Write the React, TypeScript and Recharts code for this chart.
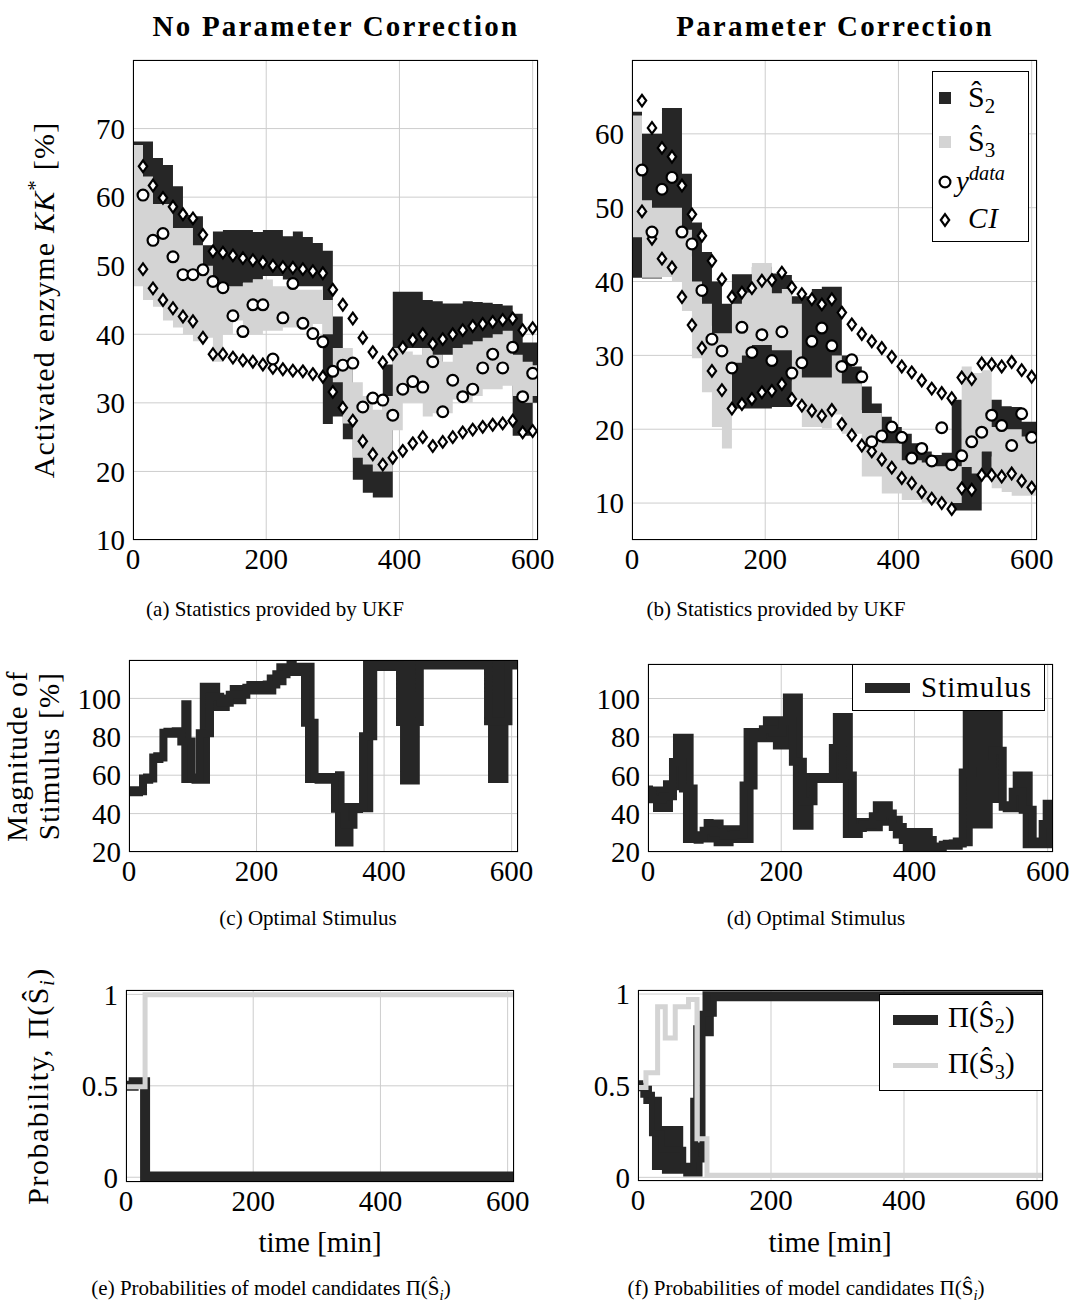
import React from "react"
import { Area, CartesianGrid, ComposedChart, Line, Scatter, XAxis, YAxis } from "recharts"

const SERIF = '"Liberation Serif", "Times New Roman", serif'
const DARK = "#262626"
const LIGHT = "#d4d4d4"
const GRID = "#cdcdcd"

// sample times [min]
const bandTimes = [0, 15, 30, 45, 60, 75, 90, 105, 120, 135, 150, 165, 180, 195, 210, 225, 240, 255, 270, 285, 300, 315, 330, 345, 360, 375, 390, 405, 420, 435, 450, 465, 480, 495, 510, 525, 540, 555, 570, 585, 600]
const markTimes = [15, 30, 45, 60, 75, 90, 105, 120, 135, 150, 165, 180, 195, 210, 225, 240, 255, 270, 285, 300, 315, 330, 345, 360, 375, 390, 405, 420, 435, 450, 465, 480, 495, 510, 525, 540, 555, 570, 585, 600]

// (a) no parameter correction
const aS2Lo = [53.5, 50, 50, 51, 52, 51, 50.5, 46, 46, 46.5, 46.5, 47.5, 48, 48.5, 48.5, 48, 47, 47, 47, 26.9, 28, 24.7, 18.8, 16.9, 16.2, 16.2, 31, 38, 38, 31, 36, 37, 37, 37.5, 38, 38.5, 38.5, 38.5, 25.2, 25.2, 30]
const aS2Hi = [68.1, 68.1, 65.7, 64.7, 61.6, 57.4, 57.2, 53, 55, 55.2, 55.2, 55.2, 54.9, 55.2, 55.2, 54.3, 55, 54.2, 53.3, 52.2, 42.6, 36, 27, 24, 21, 35.6, 46.2, 46.2, 46.2, 45, 44.8, 44.5, 44.5, 44.8, 44.7, 44.6, 44.4, 44.2, 43, 38.8, 38.8]
const aS3Lo = [47, 45, 44, 42, 41, 40, 39, 39.5, 36, 40, 42, 40, 40, 40.5, 40.5, 41, 41, 41, 41.5, 40, 33, 27, 22, 21, 20, 20, 26, 30, 30, 28, 28.5, 28.5, 30.5, 30, 31, 32, 32, 32.5, 31, 30, 31]
const aS3Hi = [67.6, 63, 59, 59, 55.5, 55.5, 53, 50, 47, 47, 47, 47.5, 48, 48, 47, 47, 46.5, 46.5, 46.5, 45, 38, 38, 33, 31, 29, 31, 38, 37.5, 37, 38, 37, 36, 38, 38.5, 39, 39.5, 40, 40.5, 37, 36, 35.5]
const aYData = [60.3, 53.7, 54.7, 51.3, 48.7, 48.7, 49.4, 47.7, 46.8, 42.7, 40.4, 44.3, 44.3, 36.4, 42.4, 47.4, 41.6, 40.1, 38.9, 34.6, 35.5, 35.8, 29.4, 30.7, 30.4, 28.2, 32.0, 33.1, 32.3, 36.0, 28.7, 33.3, 30.9, 32.0, 35.1, 37.1, 35.1, 38.1, 30.9, 34.3]
const aCiHi = [64.5, 61.7, 59.9, 58.6, 57.5, 56.9, 54.5, 52.1, 51.9, 51.5, 51.1, 50.8, 50.5, 50.0, 49.8, 49.7, 49.5, 49.2, 48.9, 46.5, 44.3, 42.3, 39.5, 37.4, 35.9, 37.1, 38.1, 39.2, 40.0, 38.6, 39.3, 40.0, 40.6, 41.2, 41.5, 41.8, 42.1, 42.3, 40.6, 40.9]
const aCiLo = [49.5, 46.7, 45.0, 43.8, 42.6, 41.9, 39.5, 37.1, 37.1, 36.6, 36.2, 36.0, 35.6, 35.1, 34.9, 34.7, 34.6, 34.2, 33.8, 31.6, 29.3, 27.4, 24.4, 22.5, 21.0, 22.0, 23.0, 24.1, 25.0, 23.7, 24.3, 25.0, 25.7, 26.1, 26.5, 26.8, 27.0, 27.4, 25.7, 25.9]

// (b) parameter correction
const bS2Lo = [40.5, 40.4, 40.4, 41, 44, 43.4, 37.5, 34, 28.5, 28.5, 22.8, 22.8, 22.8, 22.8, 23, 23, 26.5, 26.7, 26.7, 26.7, 24, 25.3, 22.6, 19.9, 18.1, 16.3, 14.9, 14, 13.6, 13.1, 13.1, 13, 9, 9, 9, 13.5, 16.3, 16.3, 16.3, 15.8, 15.8]
const bS2Hi = [63, 60, 60, 63.5, 63.5, 54.6, 48, 44, 40, 37, 41, 41, 42, 42, 41.1, 40.9, 38, 38, 39, 39.3, 39.3, 30, 28.5, 25.8, 23.5, 21.7, 20.3, 19.4, 18.1, 17, 16.5, 16.8, 24, 17, 17, 24, 24, 23.1, 23, 21, 21]
const bS3Lo = [46, 40.5, 40.5, 40.6, 40, 36, 29.6, 25, 20.3, 17.4, 29, 30, 31.4, 31.4, 30.7, 30.7, 24, 20.3, 20.3, 20.1, 22, 19.4, 19.4, 13.6, 13.6, 11.3, 11.3, 10.4, 10.4, 10, 10, 10, 10, 14.9, 14, 17, 12, 11.5, 11, 11, 11]
const bS3Hi = [62.5, 51, 50, 50, 50, 47, 40, 37, 33, 33, 37, 38.5, 42.5, 42.5, 38.4, 39, 37, 27, 27, 27, 30, 26.2, 26.2, 22.2, 22.2, 18.1, 18.1, 15.8, 15.8, 15.5, 15, 15, 15, 28.5, 27.6, 28, 20.3, 20, 20, 19, 19]
const bYData = [55.1, 46.7, 52.5, 54.1, 46.7, 45.1, 38.8, 32.2, 30.6, 28.3, 33.8, 30.4, 32.8, 29.3, 33.2, 27.6, 29.0, 31.9, 33.7, 31.3, 28.5, 29.4, 27.1, 18.3, 19.1, 20.3, 18.9, 16.1, 17.4, 15.7, 20.2, 15.2, 16.4, 18.3, 19.6, 21.9, 20.5, 17.8, 22.1, 18.9]
const bCiHi = [64.5, 60.8, 58.1, 56.9, 53.0, 49.1, 46.2, 42.8, 40.3, 37.9, 38.5, 39.1, 40.1, 40.2, 41.2, 39.2, 38.3, 37.6, 36.9, 37.6, 35.8, 34.2, 32.9, 31.9, 31.0, 29.8, 28.5, 27.7, 26.6, 25.5, 24.9, 24.2, 27.0, 26.8, 28.9, 28.8, 28.5, 29.1, 28.0, 27.1]
const bCiLo = [49.5, 45.8, 43.1, 41.9, 37.9, 34.1, 31.0, 27.9, 25.3, 22.8, 23.4, 24.1, 25.0, 25.2, 26.1, 24.1, 23.2, 22.5, 21.8, 22.6, 20.7, 19.2, 17.8, 17.0, 15.9, 14.8, 13.4, 12.7, 11.5, 10.6, 10.0, 9.2, 12.0, 11.8, 13.8, 13.8, 13.6, 14.0, 13.0, 12.1]

// (c) optimal stimulus, no correction
const cTimes = [0, 22, 38, 54, 67, 82, 98, 111, 127, 143, 158, 184, 216, 231, 247, 263, 276, 291, 323, 338, 352, 367, 383, 425, 456, 563, 595]
const cLo = [49, 55.6, 66.4, 79.5, 79.5, 56, 55.6, 55.6, 93.4, 93.4, 96.9, 102, 102, 106.8, 111.7, 111.7, 56, 55.6, 22.9, 22.9, 40.3, 40.7, 114.3, 55.1, 115.1, 56, 115]
const cHi = [54.2, 60.9, 72, 84.7, 85, 99, 60.9, 108.2, 108.2, 102, 107, 109, 112.5, 118.3, 119.5, 118.6, 118.6, 61.2, 62.1, 45.5, 45.5, 120, 120.3, 120.3, 120.3, 120.3, 120.3]

// (d) optimal stimulus, with correction
const dTimes = [0, 7.5, 22.5, 37.5, 52.5, 68.5, 83.5, 98.5, 113.5, 128.5, 143.5, 158.5, 172.5, 187.5, 202.5, 217.5, 232.5, 248.5, 277.5, 292.5, 307.5, 322.5, 337.5, 352.5, 367.5, 382.5, 427.5, 442.5, 457.5, 472.5, 487.5, 517.5, 532.5, 547.5, 562.5, 577.5, 592.5]
const dLo = [49, 40.8, 40.8, 52.2, 24.7, 24.3, 25, 23, 23, 24.7, 24.7, 77.2, 77.2, 73.4, 73.4, 31.6, 31.6, 56, 56, 27.3, 27.3, 30.8, 30.8, 33.7, 27.1, 20, 20, 21.2, 21.2, 23, 32.2, 45.5, 40.7, 40.7, 22, 22, 22]
const dHi = [54.6, 54.2, 57.4, 81.6, 81.6, 30.8, 37.2, 37, 33.9, 33.9, 84.7, 84.7, 90.8, 90.8, 102.6, 102.6, 61.2, 61.2, 92.5, 92.5, 37.7, 37.7, 46.4, 46.4, 38.9, 32.5, 25, 26.4, 27.6, 100, 100, 100, 46.4, 62, 62, 27.6, 47.3]

// (e) model probabilities, no correction
const eS2Times = [0, 12, 30, 610]
const eS2Prob = [0.5, 0.52, 0.004, 0.004]
const eS3Times = [0, 30, 610]
const eS3Prob = [0.495, 0.998, 0.998]

// (f) model probabilities, with correction
const fS2Times = [0, 8, 21, 36, 68, 83, 86, 97, 114, 609]
const fS2Lo = [0.47, 0.4, 0.04, 0.02, 0.005, 0.005, 0.005, 0.77, 0.96, 0.97]
const fS2Hi = [0.53, 0.5, 0.44, 0.28, 0.08, 0.83, 0.19, 1.015, 1.015, 1.015]
const fS3Times = [0, 12, 29.5, 41, 56, 76, 88.7, 103.7, 609]
const fS3Prob = [0.49, 0.57, 0.93, 0.76, 0.93, 0.97, 0.21, 0.012, 0.005]

const xTicks = [0, 200, 400, 600]

const band = (times: number[], lo: number[], hi: number[], end?: number) => {
  const rows = times.map((t, i) => ({ t, range: [lo[i], hi[i]], mid: (lo[i] + hi[i]) / 2 }))
  if (end !== undefined) {
    const last = rows[rows.length - 1]
    rows.push({ t: end, range: last.range, mid: last.mid })
  }
  return rows
}
const pts = (times: number[], v: number[]) => times.map((t, i) => ({ t, v: v[i] }))

const tickStyle = { fill: "#000", fontSize: 29, fontFamily: SERIF }
const Y_W = 80
const X_H = 50
const T_PAD = 20
const R_PAD = 30

type Rect = { x: number; y: number; w: number; h: number }

function Panel({ rect, xMax, yDomain, yTicks, children }: { rect: Rect; xMax: number; yDomain: number[]; yTicks: number[]; children: React.ReactNode }) {
  return (
    <>
      <div style={{ position: "absolute", left: rect.x - Y_W, top: rect.y - T_PAD }}>
        <ComposedChart
          width={rect.w + Y_W + R_PAD}
          height={rect.h + T_PAD + X_H}
          margin={{ top: T_PAD, right: R_PAD, bottom: 0, left: 0 }}
        >
          <CartesianGrid stroke={GRID} strokeWidth={1} />
          <XAxis type="number" dataKey="t" domain={[0, xMax]} ticks={xTicks} allowDataOverflow interval={0} tickLine={false} axisLine={false} height={X_H} tick={tickStyle} />
          <YAxis type="number" domain={yDomain} ticks={yTicks} allowDataOverflow interval={0} tickLine={false} axisLine={false} width={Y_W} tick={tickStyle} />
          {children}
        </ComposedChart>
      </div>
      <div style={{ position: "absolute", left: rect.x, top: rect.y, width: rect.w, height: rect.h, border: "1.3px solid #000", boxSizing: "border-box", pointerEvents: "none" }} />
    </>
  )
}

const circleShape = (p: any) => <circle cx={p.cx} cy={p.cy} r={5.4} fill="#fff" stroke="#000" strokeWidth={2.2} />
const diamondShape = (p: any) => (
  <path d={`M${p.cx},${p.cy - 5.8} L${p.cx + 4.2},${p.cy} L${p.cx},${p.cy + 5.8} L${p.cx - 4.2},${p.cy} Z`} fill="#fff" stroke="#000" strokeWidth={2.2} />
)

function Txt({ x, y, size = 28, bold = false, rotate = 0, align = "center", spacing = 0, children }: any) {
  const tx = align === "center" ? "-50%" : "0"
  return (
    <div
      style={{
        position: "absolute",
        left: x,
        top: y,
        transform: `translate(${tx}, -50%)${rotate ? ` rotate(${rotate}deg)` : ""}`,
        fontFamily: SERIF,
        fontSize: size,
        fontWeight: bold ? "bold" : "normal",
        letterSpacing: spacing,
        whiteSpace: "nowrap",
        lineHeight: 1.1,
        color: "#000",
        textAlign: "center",
      }}
    >
      {children}
    </div>
  )
}

const Sub = ({ children }: any) => <span style={{ fontSize: "0.7em", verticalAlign: "-0.3em" }}>{children}</span>
const Sup = ({ children }: any) => <span style={{ fontSize: "0.7em", verticalAlign: "0.55em" }}>{children}</span>
const Shat = () => <span>Ŝ</span>

const A: Rect = { x: 133, y: 60, w: 405, h: 480 }
const B: Rect = { x: 632, y: 60, w: 405, h: 480 }
const C: Rect = { x: 129, y: 660, w: 389, h: 192 }
const D: Rect = { x: 648, y: 664, w: 405, h: 188 }
const E: Rect = { x: 126, y: 990, w: 388, h: 192 }
const F: Rect = { x: 638, y: 990, w: 405, h: 191 }

function UkfSeries(s2: any[], s3: any[], yd: any[], hi: any[], lo: any[]) {
  return [
    <Area key="s2" data={s2} type="stepAfter" dataKey="range" stroke="none" fill={DARK} fillOpacity={1} isAnimationActive={false} />,
    <Area key="s3" data={s3} type="stepAfter" dataKey="range" stroke="none" fill={LIGHT} fillOpacity={1} isAnimationActive={false} />,
    <Scatter key="hi" data={hi} dataKey="v" shape={diamondShape} isAnimationActive={false} />,
    <Scatter key="lo" data={lo} dataKey="v" shape={diamondShape} isAnimationActive={false} />,
    <Scatter key="yd" data={yd} dataKey="v" shape={circleShape} isAnimationActive={false} />,
  ]
}

function StimSeries(rows: any[]) {
  return [
    <Area key="band" data={rows} type="stepAfter" dataKey="range" stroke="none" fill={DARK} fillOpacity={1} isAnimationActive={false} />,
    <Line key="mid" data={rows} type="stepAfter" dataKey="mid" stroke={DARK} strokeWidth={8} dot={false} isAnimationActive={false} />,
  ]
}

export default function App() {
  const ukfTicksA = [10, 20, 30, 40, 50, 60, 70]
  const ukfTicksB = [10, 20, 30, 40, 50, 60]
  const stimTicks = [20, 40, 60, 80, 100]
  const probTicks = [0, 0.5, 1]
  const fRows = band(fS2Times, fS2Lo, fS2Hi)

  return (
    <div style={{ position: "absolute", left: 0, top: 0, width: 1070, height: 1314, background: "#fff", overflow: "hidden" }}>
      <Txt x={336} y={27} size={29} bold spacing={2.2}>No Parameter Correction</Txt>
      <Txt x={835} y={27} size={29} bold spacing={2.2}>Parameter Correction</Txt>

      <Panel rect={A} xMax={608} yDomain={[10, 80]} yTicks={ukfTicksA}>
        {UkfSeries(band(bandTimes, aS2Lo, aS2Hi, 608), band(bandTimes, aS3Lo, aS3Hi, 608), pts(markTimes, aYData), pts(markTimes, aCiHi), pts(markTimes, aCiLo))}
      </Panel>
      <Panel rect={B} xMax={608} yDomain={[5, 70]} yTicks={ukfTicksB}>
        {UkfSeries(band(bandTimes, bS2Lo, bS2Hi, 608), band(bandTimes, bS3Lo, bS3Hi, 608), pts(markTimes, bYData), pts(markTimes, bCiHi), pts(markTimes, bCiLo))}
      </Panel>
      <Panel rect={C} xMax={610} yDomain={[20, 120]} yTicks={stimTicks}>
        {StimSeries(band(cTimes, cLo, cHi, 610))}
      </Panel>
      <Panel rect={D} xMax={608} yDomain={[20, 118]} yTicks={stimTicks}>
        {StimSeries(band(dTimes, dLo, dHi, 608))}
      </Panel>
      <Panel rect={E} xMax={610} yDomain={[-0.026, 1.024]} yTicks={probTicks}>
        <Line data={pts(eS2Times, eS2Prob)} type="stepAfter" dataKey="v" stroke={DARK} strokeWidth={10} dot={false} isAnimationActive={false} />
        <Line data={pts(eS3Times, eS3Prob)} type="stepAfter" dataKey="v" stroke={LIGHT} strokeWidth={5} dot={false} isAnimationActive={false} />
      </Panel>
      <Panel rect={F} xMax={609} yDomain={[-0.02, 1.022]} yTicks={probTicks}>
        <Area data={fRows} type="stepAfter" dataKey="range" stroke="none" fill={DARK} fillOpacity={1} isAnimationActive={false} />
        <Line data={fRows} type="stepAfter" dataKey="mid" stroke={DARK} strokeWidth={6} dot={false} isAnimationActive={false} />
        <Line data={pts(fS3Times, fS3Prob)} type="stepAfter" dataKey="v" stroke={LIGHT} strokeWidth={5} dot={false} isAnimationActive={false} />
      </Panel>

      {/* legend (b) */}
      <div style={{ position: "absolute", left: 932, top: 71, width: 97, height: 171, border: "1.3px solid #000", boxSizing: "border-box", background: "#fff" }} />
      <div style={{ position: "absolute", left: 939, top: 92, width: 12, height: 12, background: DARK }} />
      <Txt x={968} y={99} size={30} align="left"><Shat /><Sub>2</Sub></Txt>
      <div style={{ position: "absolute", left: 939, top: 136, width: 12, height: 12, background: LIGHT }} />
      <Txt x={968} y={143} size={30} align="left"><Shat /><Sub>3</Sub></Txt>
      <svg style={{ position: "absolute", left: 937, top: 174 }} width={16} height={16}>{circleShape({ cx: 8, cy: 8 })}</svg>
      <Txt x={956} y={180} size={29} align="left"><i>y</i><Sup><i>data</i></Sup></Txt>
      <svg style={{ position: "absolute", left: 937, top: 212 }} width={16} height={16}>{diamondShape({ cx: 8, cy: 8 })}</svg>
      <Txt x={968} y={219} size={29} align="left" spacing={1}><i>CI</i></Txt>

      {/* legend (d) */}
      <div style={{ position: "absolute", left: 852, top: 664, width: 193, height: 47, border: "1.3px solid #000", boxSizing: "border-box", background: "#fff" }} />
      <div style={{ position: "absolute", left: 865, top: 683, width: 45, height: 10, background: DARK }} />
      <Txt x={921} y={688} size={29} align="left" spacing={1}>Stimulus</Txt>

      {/* legend (f) */}
      <div style={{ position: "absolute", left: 879, top: 994, width: 164, height: 97, border: "1.3px solid #000", boxSizing: "border-box", background: "#fff" }} />
      <div style={{ position: "absolute", left: 893, top: 1015, width: 45, height: 10, background: DARK }} />
      <Txt x={948} y={1020} size={29} align="left">Π(<Shat /><Sub>2</Sub>)</Txt>
      <div style={{ position: "absolute", left: 893, top: 1063, width: 45, height: 5, background: LIGHT }} />
      <Txt x={948} y={1066} size={29} align="left">Π(<Shat /><Sub>3</Sub>)</Txt>

      {/* axis labels */}
      <Txt x={42} y={300} rotate={-90} size={30} spacing={1.2}>Activated enzyme <i>KK</i><Sup>*</Sup> [%]</Txt>
      <Txt x={34} y={756} rotate={-90} size={29} spacing={1.2}>Magnitude of<br />Stimulus [%]</Txt>
      <Txt x={40} y={1086} rotate={-90} size={30} spacing={1.5}>Probability, Π(<Shat /><Sub><i>i</i></Sub>)</Txt>
      <Txt x={320} y={1243} size={29}>time [min]</Txt>
      <Txt x={830} y={1243} size={29}>time [min]</Txt>

      {/* captions */}
      <Txt x={275} y={610} size={21}>(a) Statistics provided by UKF</Txt>
      <Txt x={776} y={610} size={21}>(b) Statistics provided by UKF</Txt>
      <Txt x={308} y={919} size={21}>(c) Optimal Stimulus</Txt>
      <Txt x={816} y={919} size={21}>(d) Optimal Stimulus</Txt>
      <Txt x={271} y={1290} size={21}>(e) Probabilities of model candidates Π(<Shat /><Sub><i>i</i></Sub>)</Txt>
      <Txt x={806} y={1290} size={21}>(f) Probabilities of model candidates Π(<Shat /><Sub><i>i</i></Sub>)</Txt>
    </div>
  )
}
